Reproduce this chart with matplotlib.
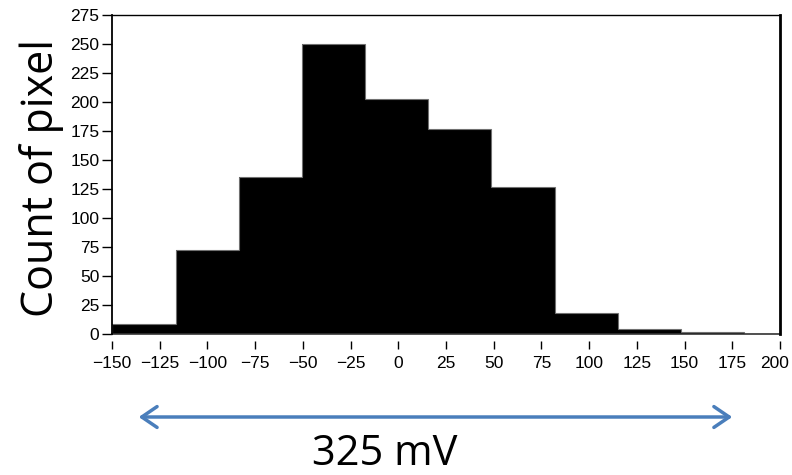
import numpy as np
import matplotlib
matplotlib.use('Agg')
import matplotlib.pyplot as plt
import matplotlib.transforms as mtransforms

plt.rcParams['font.family'] = ['Liberation Sans', 'DejaVu Sans']

# Histogram data
bin_edges = [-150, -116.6, -83.4, -50.3, -17.3, 15.8, 48.8, 81.9, 115.0, 148.0, 181.0, 214.0]
counts = [9, 72, 135, 250, 203, 177, 127, 18, 4, 2, 0]

x_ticks = [-150, -125, -100, -75, -50, -25, 0, 25, 50, 75, 100, 125, 150, 175, 200]
y_ticks = [0, 25, 50, 75, 100, 125, 150, 175, 200, 225, 250, 275]

# span shown by the blue arrow under the plot
span_ends = [-136, 175]
span_label = '325 mV'

fig = plt.figure(figsize=(7.92, 4.75), dpi=100)
ax = fig.add_axes([0.1414, 0.2968, 0.8434, 0.6716])

ax.stairs(counts, bin_edges, fill=True, color='black')
ax.stairs(counts, bin_edges, fill=False, color='#707070', linewidth=0.8)

# x ticks sit a little below the axis line, like the original
ax.spines['bottom'].set_position(('outward', 5))
ax.spines['bottom'].set_color('none')
ax.axhline(0, color='#333333', linewidth=1.2, clip_on=False)
ax.spines['left'].set_linewidth(1.3)
ax.spines['top'].set_linewidth(1.0)
ax.spines['right'].set_linewidth(2.0)

ax.set_xlim(-150, 200)
ax.set_ylim(0, 275)
ax.set_xticks(x_ticks)
ax.set_yticks(y_ticks)
ax.set_xticklabels([str(v).replace('-', '\u2212') for v in x_ticks])
ax.set_yticklabels([str(v) for v in y_ticks])

ax.tick_params(axis='both', labelsize=12.5)
ax.tick_params(axis='y', direction='out', length=7, width=1, pad=2)
ax.tick_params(axis='x', direction='out', length=6, width=1, pad=5)

# keep the last x label inside the picture
last = ax.get_xticklabels()[-1]
last.set_transform(last.get_transform() +
                   mtransforms.ScaledTranslation(-5 / 100, 0, fig.dpi_scale_trans))

fig.text(0.053, 1 - 178 / 475, 'Count of pixel', rotation=90, ha='center', va='center',
         family='Open Sans', fontsize=31)

# arrow + label
ax.annotate('', xy=(span_ends[1], 1 - 417 / 475), xytext=(span_ends[0], 1 - 417 / 475),
            xycoords=('data', 'figure fraction'), textcoords=('data', 'figure fraction'),
            arrowprops=dict(arrowstyle='<->,head_length=1.1,head_width=0.75',
                            color='#4a7ebb', lw=2.5, shrinkA=0, shrinkB=0),
            annotation_clip=False)
fig.text(0.486, 1 - 465 / 475, span_label, ha='center', va='baseline',
         family='Open Sans', fontsize=30)

fig.savefig('out.png', dpi=100)
